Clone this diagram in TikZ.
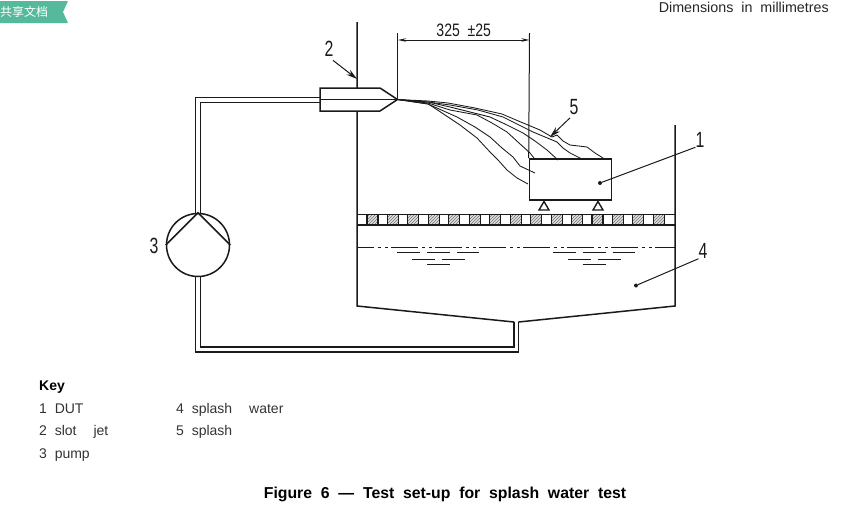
\documentclass[tikz,border=0pt]{standalone}
\usepackage{fontspec}
\setmainfont{Liberation Sans}
\newfontfamily\cjk{Noto Sans CJK SC}
\usetikzlibrary{positioning,arrows.meta,patterns}
\definecolor{bannergreen}{HTML}{55BA9C}
\definecolor{inkdark}{HTML}{1A1A1A}
\tikzset{
  wall/.style={draw=inkdark,line width=1.5pt},
  pipe/.style={draw=inkdark,line width=1.5pt},
  jetline/.style={draw=inkdark,line width=.85pt},
  thinline/.style={draw=inkdark,line width=1pt},
  ripple/.style={draw=inkdark,line width=1pt},
  drawnum/.style={inner sep=0pt,font=\fontsize{22}{22}\selectfont\addfontfeature{FakeStretch=.72},text=inkdark},
  keytext/.style={inner sep=0pt,anchor=base west,font=\fontsize{14}{14}\selectfont,text=black!80},
  leaderdot/.style={circle,fill=inkdark,inner sep=0pt,minimum size=4pt},
}
\begin{document}
\begin{tikzpicture}[x=1pt,y=-1pt]
 \useasboundingbox (0,0) rectangle (865,506);
 % banner
 \fill[bannergreen] (0,1) -- (68,1) -- (63,12) -- (68,23) -- (0,23) -- cycle;
 \node[inner sep=0pt,anchor=west,text=white,font=\cjk\fontsize{12}{12}\selectfont] (banner) at (0,12) {共享文档};
 \node[inner sep=0pt,anchor=east,text=black!85,font=\fontsize{14.3}{14.3}\selectfont] (units) at (829,7) {Dimensions\ \ in\ \ millimetres};

 % tank
 \coordinate (wallTop) at (357,22);
 \coordinate (wallLow) at (357,306);
 \coordinate (rightTop) at (675,125);
 \coordinate (rightLow) at (675,306);
 \coordinate (drainL) at (514,322);
 \coordinate (drainR) at (518.5,322);
 \draw[wall] (wallTop) -- (wallLow) -- (drainL);
 \draw[wall] (rightTop) -- (rightLow) -- (drainR);

 % grating
 \draw[wall] (357,214.5) -- (675,214.5) (357,225) -- (675,225);
 \foreach \n in {0,...,14} {
  \fill[black!12] ({367+20.45*\n},214.5) rectangle ++(11,10.5);
  \draw[draw=inkdark,line width=1.1pt,pattern=north east lines,pattern color=black!55]
   ({367+20.45*\n},214.5) rectangle ++(11,10.5);
 }

 % water
 \draw[thinline,dash pattern=on 27pt off 4pt on 3pt off 4pt on 3pt off 3pt,dash phase=10pt] (357,247.5) -- (675,247.5);
 \foreach \dx in {0,155.5} {
  \draw[ripple] (397+\dx,252.7) -- ++(23,0) (427+\dx,252.7) -- ++(23,0) (457+\dx,252.7) -- ++(22,0);
  \draw[ripple] (412+\dx,259) -- ++(23,0) (442+\dx,259) -- ++(23,0);
  \draw[ripple] (427+\dx,264.5) -- ++(23,0);
 }

 % DUT and supports
 \node[draw=inkdark,line width=1.6pt,fill=white,minimum width=82pt,minimum height=41pt,inner sep=0pt] (dut) at (570.5,179.5) {};
 \foreach \sx in {544,598}
  \draw[draw=inkdark,line width=1.4pt] (\sx,201.5) -- ++(5,8.5) -- ++(-10,0) -- cycle;

 % pump and pipe
 \node[circle,draw=inkdark,line width=1.5pt,minimum size=63pt,inner sep=0pt] (pump) at (198,245) {};
 \draw[wall] (pump.west) -- (pump.north) -- (pump.east);
 \coordinate (pipeA) at (320,97.5);
 \coordinate (pipeB) at (320,102.5);
 \draw[pipe] (pipeA) -- (195.5,97.5) -- (195.5,214);
 \draw[pipe] (pipeB) -- (200.5,102.5) -- (200.5,214);
 \draw[pipe] (195.5,276.5) -- (195.5,352) -- (518.5,352) -- (drainR);
 \draw[pipe] (200.5,276.5) -- (200.5,347) -- (514,347) -- (drainL);

 % jet nozzle
 \coordinate (tip) at (397.5,99.5);
 \draw[wall,fill=white] (320,88) -- (380,88) -- (tip) -- (380,111) -- (320,111) -- cycle;
 \draw[thinline] (320,99.5) -- (tip);

 % splash
 \draw[jetline] (tip) -- (428,101) -- (448,103) -- (475,108) -- (502,114) -- (516,120) -- (528,125) -- (540,130) -- (552,137) -- (557,135) -- (563,141) -- (570,145) -- (587,147) -- (595,153) -- (603,158);
 \draw[jetline] (tip) -- (428,102) -- (450,105) -- (478,110) -- (503,117) -- (533,132) -- (557,142) -- (563,148) -- (570,153) -- (582,159);
 \draw[jetline] (tip) -- (428,102) -- (450,107) -- (490,117) -- (507,125) -- (523,133) -- (535,141) -- (547,150) -- (558,160);
 \draw[jetline] (tip) -- (428,103) -- (450,110) -- (477,115) -- (492,123) -- (507,132) -- (519,143) -- (530,153) -- (534,158);
 \draw[jetline] (tip) -- (428,104) -- (457,117) -- (475,127) -- (490,137) -- (502,148) -- (513,157) -- (520,166) -- (535,173);
 \draw[jetline] (tip) -- (428,104) -- (433,107) -- (460,125) -- (477,138) -- (490,152) -- (498,160) -- (507,170) -- (517,178) -- (528,184);

 % dimension
 \coordinate (dimR) at (529.5,33);
 \coordinate (dimL) at (397.5,33);
 \draw[thinline] (dimL) -- (tip);
 \draw[thinline] (dimR) -- (dut.north west);
 \draw[thinline,{Stealth[length=8pt,width=3.5pt]}-{Stealth[length=8pt,width=3.5pt]}] (398,40) -- node[above=3pt,inner sep=0pt,font=\fontsize{18}{18}\selectfont\addfontfeature{FakeStretch=.78},text=inkdark] (dimtext) {325\ \ ±25} (529.5,40);

 % labels
 \node[drawnum] (lab2) at (329,48.5) {2};
 \node[drawnum] (lab5) at (574,107) {5};
 \node[drawnum] (lab1) at (700,139.5) {1};
 \node[drawnum] (lab4) at (703,251) {4};
 \node[drawnum] (lab3) at (154,245.5) {3};
 \coordinate (arrow2) at (357,79);
 \coordinate (arrow5) at (550,137);
 \node[leaderdot] (dot1) at (600,183) {};
 \node[leaderdot] (dot4) at (636,285.5) {};
 \draw[thinline,-{Stealth[length=11pt,width=6pt]}] (lab2.south) ++(4,4) coordinate (from2) (from2) -- (arrow2);
 \draw[thinline,-{Stealth[length=11pt,width=6pt]}] (lab5.south) ++(-4,3) coordinate (from5) (from5) -- (arrow5);
 \draw[thinline] (lab1.south west) -- (dot1);
 \draw[thinline] (lab4.south west) -- (dot4);

 % key
 \node[keytext,font=\bfseries\fontsize{14}{14}\selectfont,text=black] (key) at (39,390) {Key};
 \node[keytext] (k1) at (39,413) {1\ \ DUT};
 \node[keytext] (k2) at (39,435) {2\ \ slot\hspace{17pt}jet};
 \node[keytext] (k3) at (39,458) {3\ \ pump};
 \node[keytext] (k4) at (176,413) {4\ \ splash\hspace{17pt}water};
 \node[keytext] (k5) at (176,435) {5\ \ splash};

 % caption
 \node[inner sep=0pt,font=\bfseries\fontsize{15.8}{15.8}\selectfont,text=black] (caption) at (445,494.5) {Figure\ \ 6\ \ —\ \ Test\ \ set-up\ \ for\ \ splash\ \ water\ \ test};
\end{tikzpicture}
\end{document}
